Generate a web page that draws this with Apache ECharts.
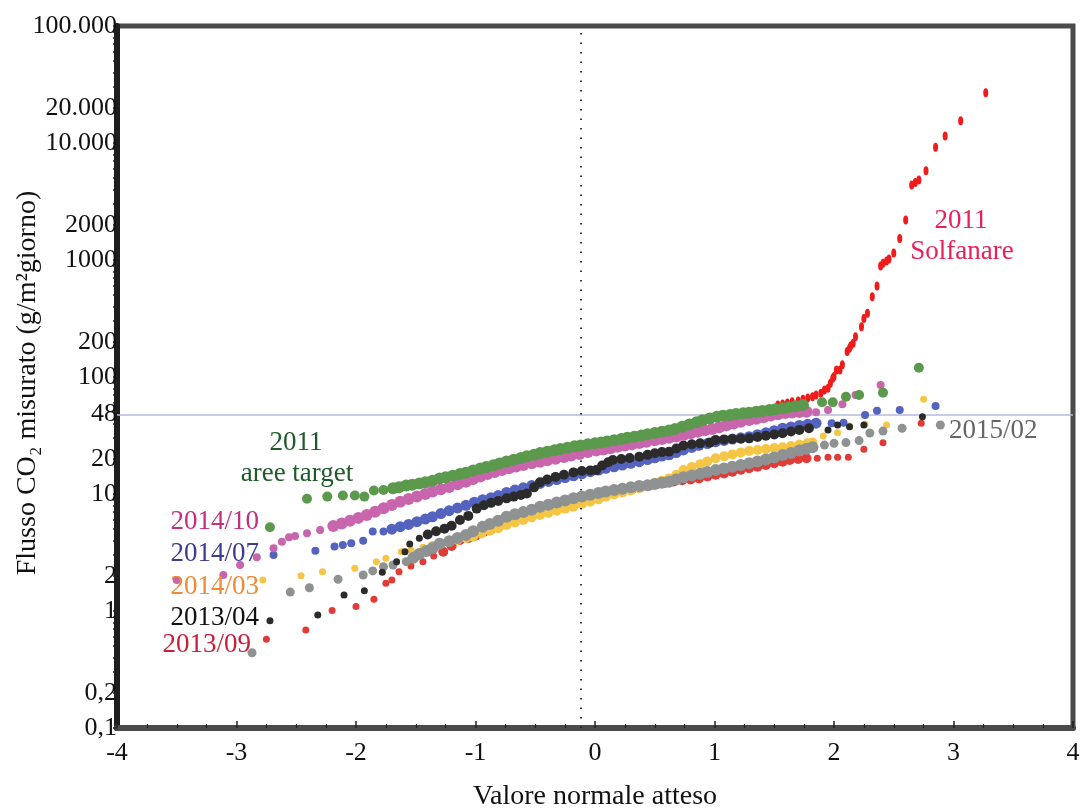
<!DOCTYPE html>
<html><head><meta charset="utf-8">
<script src="https://cdn.jsdelivr.net/npm/echarts@6/dist/echarts.min.js"></script>
<style>html,body{margin:0;padding:0;background:#fff}#c{width:1081px;height:808px}</style>
</head><body><div id="c"></div>
<script>
// ---- data: [valore normale atteso, flusso CO2 misurato] ----
const yTickValues = [0.1, 0.2, 1, 2, 10, 20, 48, 100, 200, 1000, 2000, 10000, 20000, 100000];
const yTickLabels = ['0,1', '0,2', '1', '2', '10', '20', '48', '100', '200', '1000', '2000', '10.000', '20.000', '100.000'];
const xTickValues = [-4, -3, -2, -1, 0, 1, 2, 3, 4];
const refFlux = 48;
const refX = -0.12;

const areeTarget2011 = [
  [-2.72,5.2],[-2.41,9.1],[-2.24,9.5],[-2.11,9.7],[-2.01,9.7],[-1.93,9.5],[-1.85,10.7],[-1.77,10.8],
  [-1.69,11.2],[-1.64,11.4],[-1.58,11.8],[-1.53,12.0],[-1.47,12.3],[-1.42,12.6],[-1.36,13.0],[-1.30,13.6],
  [-1.25,13.9],[-1.19,14.3],[-1.13,14.8],[-1.08,15.2],[-1.02,15.9],[-0.96,16.5],[-0.91,17.0],[-0.85,17.6],
  [-0.80,18.2],[-0.74,19.0],[-0.68,19.6],[-0.62,20.3],[-0.57,21.0],[-0.51,21.7],[-0.46,22.4],[-0.40,23.0],
  [-0.34,23.6],[-0.29,24.2],[-0.23,24.9],[-0.17,25.6],[-0.12,26.0],[-0.06,26.6],[0.00,27.2],[0.05,27.6],
  [0.10,28.1],[0.16,28.8],[0.22,29.5],[0.27,30.2],[0.33,30.8],[0.39,31.6],[0.44,32.4],[0.50,33.2],
  [0.56,34.0],[0.62,34.9],[0.67,36.0],[0.73,37.6],[0.79,39.2],[0.85,41.0],[0.90,42.6],[0.96,44.2],
  [1.02,45.8],[1.07,46.6],[1.13,47.4],[1.18,48.2],[1.24,48.9],[1.29,49.5],[1.35,50.4],[1.40,51.2],
  [1.46,52.2],[1.51,53.1],[1.57,54.0],[1.62,55.0],[1.68,56.2],[1.74,57.6],
  [1.90,60.8],[1.99,60.8],[2.10,67.9],[2.21,70.2],[2.41,73.5],[2.71,120]
];
const s2014_10 = [
  [-3.50,1.84],[-3.11,2.03],[-2.97,2.47],[-2.83,2.88],[-2.69,3.44],[-2.62,3.91],[-2.56,4.26],[-2.51,4.37],
  [-2.41,4.61],[-2.30,4.92],[-2.19,5.33],[-2.12,5.6],[-2.05,5.91],[-1.98,6.25],[-1.91,6.62],[-1.84,7.05],
  [-1.77,7.55],[-1.70,8.05],[-1.63,8.6],[-1.56,9.05],[-1.49,9.5],[-1.42,10.0],[-1.36,10.5],[-1.29,11.0],
  [-1.22,11.5],[-1.15,12.1],[-1.08,12.7],[-1.02,13.4],[-0.96,14.1],[-0.90,14.8],[-0.84,15.4],[-0.78,16.0],
  [-0.72,16.6],[-0.66,17.2],[-0.60,17.7],[-0.53,18.3],[-0.46,18.9],[-0.40,19.4],[-0.33,20.0],[-0.26,20.7],
  [-0.20,21.3],[-0.13,22.0],[-0.06,22.8],[0.01,23.5],[0.07,24.0],[0.13,24.6],[0.19,25.3],[0.25,26.0],
  [0.31,26.6],[0.37,27.3],[0.43,28.0],[0.50,28.8],[0.56,29.5],[0.62,30.3],[0.68,31.0],[0.74,31.9],
  [0.80,33.0],[0.86,34.0],[0.92,35.0],[0.98,36.0],[1.04,37.2],[1.10,38.6],[1.16,40.0],[1.22,41.4],
  [1.29,42.9],[1.35,44.0],[1.41,45.3],[1.47,46.8],[1.53,48.0],[1.59,49.2],[1.65,49.8],[1.71,50.2],
  [1.77,50.5],[1.85,50.0],[1.95,52.2],[2.07,58.5],[2.18,70.2],[2.39,85.5]
];
const s2014_07 = [
  [-2.69,3.01],[-2.34,3.27],[-2.18,3.55],[-2.11,3.67],[-2.04,3.79],[-1.94,3.99],[-1.86,4.77],[-1.77,4.77],
  [-1.70,5.0],[-1.63,5.26],[-1.56,5.5],[-1.49,5.8],[-1.42,6.1],[-1.36,6.39],[-1.29,6.8],[-1.22,7.2],
  [-1.15,7.6],[-1.08,8.0],[-1.01,8.5],[-0.94,8.95],[-0.87,9.3],[-0.81,9.7],[-0.74,10.3],[-0.67,10.8],
  [-0.60,11.3],[-0.53,11.8],[-0.46,12.3],[-0.39,12.8],[-0.32,13.3],[-0.25,13.8],[-0.18,14.3],[-0.11,14.9],
  [-0.04,15.5],[0.03,16.0],[0.09,16.6],[0.16,17.1],[0.23,17.7],[0.30,18.3],[0.37,18.9],[0.44,19.7],
  [0.50,20.4],[0.56,21.1],[0.62,21.6],[0.68,22.6],[0.74,23.8],[0.81,25.0],[0.87,26.1],[0.94,27.0],
  [1.01,28.0],[1.08,28.7],[1.15,29.5],[1.22,30.2],[1.29,30.9],[1.36,32.1],[1.43,33.3],[1.50,34.8],
  [1.57,36.5],[1.64,37.4],[1.71,38.5],[1.78,39.4],[1.85,40.3],
  [1.98,40.3],[2.08,40.7],[2.26,47.3],[2.36,51.5],[2.55,52.2],[2.85,56.5]
];
const s2013_04 = [
  [-2.72,0.826],[-2.32,0.925],[-2.10,1.37],[-1.93,1.49],[-1.78,2.14],[-1.66,2.64],[-1.59,3.21],[-1.55,3.74],
  [-1.47,4.18],[-1.40,4.5],[-1.33,4.8],[-1.26,5.05],[-1.20,5.35],[-1.13,6.0],[-1.06,6.5],[-0.99,7.5],
  [-0.93,8.0],[-0.87,8.4],[-0.81,8.7],[-0.74,9.18],[-0.68,9.5],[-0.62,9.8],[-0.57,10.1],[-0.51,11.4],
  [-0.46,12.6],[-0.40,13.3],[-0.33,14.0],[-0.26,14.6],[-0.18,15.3],[-0.11,15.7],[-0.04,15.9],[0.01,16.0],
  [0.06,17.5],[0.11,18.7],[0.15,19.5],[0.22,19.9],[0.29,20.3],[0.37,20.8],[0.44,21.6],[0.50,22.3],
  [0.56,22.8],[0.62,23.0],[0.68,24.5],[0.74,26.0],[0.81,26.6],[0.88,27.1],[0.96,27.5],[1.01,29.0],
  [1.08,29.3],[1.15,29.5],[1.22,29.7],[1.29,29.9],[1.36,30.7],[1.43,31.5],[1.50,32.2],[1.57,33.0],
  [1.64,34.2],[1.71,35.3],[1.79,36.5],
  [1.95,35.2],[2.03,38.9],[2.13,37.6],[2.25,38.9],[2.74,45.8]
];
const s2014_03 = [
  [-2.78,1.84],[-2.46,2.0],[-2.28,2.17],[-2.01,2.32],[-1.83,2.64],[-1.75,2.82],[-1.62,3.21],[-1.54,3.32],
  [-1.44,3.5],[-1.36,3.6],[-1.29,3.75],[-1.22,3.9],[-1.15,4.05],[-1.08,4.2],[-1.02,4.32],[-0.95,4.6],
  [-0.88,4.85],[-0.81,5.1],[-0.74,5.43],[-0.67,5.7],[-0.60,6.0],[-0.53,6.3],[-0.46,6.62],[-0.39,6.9],
  [-0.32,7.2],[-0.25,7.5],[-0.18,7.78],[-0.11,8.2],[-0.04,8.6],[0.03,9.0],[0.09,9.5],[0.16,9.9],
  [0.23,10.3],[0.30,10.7],[0.37,11.2],[0.44,11.9],[0.50,12.5],[0.56,13.0],[0.62,13.6],[0.68,14.5],
  [0.74,16.0],[0.81,17.0],[0.88,18.0],[0.94,19.0],[1.01,20.2],[1.08,21.0],[1.15,21.8],[1.22,22.6],
  [1.29,23.3],[1.36,23.8],[1.43,24.2],[1.50,24.7],[1.57,25.1],[1.64,25.7],[1.71,26.5],[1.78,27.2],
  [1.82,27.5],[1.91,31.3],[2.03,33.4],[2.13,38.1],[2.26,39.4],[2.44,38.9],[2.75,64.4]
];
const s2015_02 = [
  [-2.87,0.44],[-2.55,1.45],[-2.39,1.58],[-2.15,1.87],[-1.94,2.03],[-1.86,2.2],[-1.77,2.39],[-1.69,2.47],
  [-1.58,2.64],[-1.52,2.85],[-1.47,3.07],[-1.41,3.25],[-1.36,3.44],[-1.30,3.75],[-1.22,3.95],[-1.15,4.2],
  [-1.08,4.47],[-1.02,4.8],[-0.94,5.26],[-0.88,5.55],[-0.81,5.9],[-0.74,6.39],[-0.67,6.7],[-0.60,7.0],
  [-0.53,7.35],[-0.46,7.78],[-0.39,8.1],[-0.32,8.45],[-0.25,8.8],[-0.18,9.18],[-0.11,9.5],[-0.04,9.85],
  [0.03,10.2],[0.09,10.5],[0.16,10.8],[0.23,11.1],[0.30,11.4],[0.37,11.7],[0.44,11.9],[0.50,12.2],
  [0.56,12.5],[0.62,12.7],[0.68,13.3],[0.74,13.9],[0.81,14.4],[0.88,14.9],[0.94,15.4],[1.01,16.0],
  [1.08,16.5],[1.15,17.1],[1.22,17.7],[1.29,18.3],[1.36,19.0],[1.43,19.7],[1.50,20.5],[1.57,21.5],
  [1.64,22.4],[1.71,23.5],[1.77,24.4],[1.82,25.1],
  [1.92,26.2],[2.00,27.1],[2.10,27.5],[2.21,28.6],[2.30,33.2],[2.41,34.5],[2.57,36.5],[2.89,38.9]
];
const s2013_09 = [
  [-2.75,0.573],[-2.42,0.689],[-2.20,1.01],[-2.00,1.09],[-1.85,1.26],[-1.75,1.73],[-1.70,1.84],[-1.64,2.17],
  [-1.54,2.43],[-1.44,2.64],[-1.35,2.95],[-1.27,3.21],[-1.20,3.6],[-1.13,4.05],[-1.06,4.2],[-1.00,4.4],
  [-0.93,4.75],[-0.87,5.0],[-0.80,5.3],[-0.74,5.62],[-0.67,5.9],[-0.60,6.2],[-0.53,6.5],[-0.46,6.84],
  [-0.39,7.1],[-0.32,7.5],[-0.25,7.9],[-0.18,8.3],[-0.11,8.7],[-0.04,9.1],[0.03,9.5],[0.10,9.9],
  [0.17,10.3],[0.24,10.7],[0.31,11.0],[0.38,11.4],[0.45,11.8],[0.52,12.2],[0.59,12.5],[0.66,12.8],
  [0.73,13.1],[0.80,13.3],[0.87,13.6],[0.94,14.1],[1.01,14.6],[1.08,15.0],[1.15,15.5],[1.22,16.1],
  [1.29,16.6],[1.36,17.1],[1.43,17.7],[1.50,18.3],[1.57,18.9],[1.63,19.5],[1.70,19.9],[1.77,20.2],
  [1.86,20.2],[1.95,20.6],[2.03,20.6],[2.12,20.6],[2.25,24.1],[2.41,27.4],[2.73,40.3]
];
const solfanare2011 = [
  [1.10,40.6],[1.21,41.5],[1.53,57.6],[1.57,58.7],[1.61,60],[1.65,61.5],[1.70,62.5],[1.74,64.4],
  [1.78,66],[1.82,67.9],[1.85,70.2],[1.89,72.6],[1.92,77.4],[1.95,80],[1.97,88.3],[1.99,97.5],
  [2.00,101],[2.02,115],[2.05,115],[2.07,127],[2.11,165],[2.13,176],[2.14,185],[2.16,194],
  [2.18,221],[2.23,269],[2.25,317],[2.28,350],[2.32,486],[2.36,600],[2.39,889],[2.41,938],
  [2.44,980],[2.46,1020],[2.50,1150],[2.55,1530],[2.60,2200],[2.65,4380],[2.68,4600],[2.71,4830],
  [2.77,5800],[2.85,9180],[2.93,11500],[3.06,15500],[3.27,26900]
];

// ---- chart ----
const serif = "'Liberation Serif','DejaVu Serif',serif";
const chart = echarts.init(document.getElementById('c'), null, {renderer: 'canvas'});

function minorLogTicks() {
  const out = [];
  for (let e = -1; e <= 5; e++) {
    for (let m = 1; m <= 9; m++) {
      const v = m * Math.pow(10, e);
      if (v <= 100000 + 1e-9) out.push(+v.toPrecision(6));
    }
  }
  return out;
}

// marker size: bigger inside the dense central band, smaller for the sparse tail points
function sc(name, data, color, isoSize, denseSize, dLo, dHi, z) {
  return {
    type: 'scatter', name: name, data: data, symbol: 'circle',
    symbolSize: function (val) { return (val[0] >= dLo && val[0] <= dHi) ? denseSize : isoSize; },
    itemStyle: {color: color, opacity: 1}, z: z, silent: true, animation: false
  };
}

const txt = (t, x, y, color, align) => ({
  type: 'text', x: x, y: y, z: 100,
  style: {text: t, font: "27px 'Liberation Serif'", fill: color, textAlign: align, textVerticalAlign: 'middle'}
});

const option = {
  animation: false,
  backgroundColor: '#ffffff',
  grid: {left: 117, right: 8, top: 26, bottom: 80, outerBoundsMode: 'none', containLabel: false,
         show: true, borderColor: '#4a4a4a', borderWidth: 5, backgroundColor: 'transparent'},
  xAxis: {
    type: 'value', min: -4, max: 4, interval: 1,
    name: 'Valore normale atteso', nameLocation: 'middle', nameGap: 55,
    nameTextStyle: {fontFamily: serif, fontSize: 28, color: '#111'},
    axisLine: {show: true, onZero: false, lineStyle: {color: '#4a4a4a', width: 6}},
    axisTick: {show: true, inside: true, length: 7, lineStyle: {color: '#222', width: 1.5}},
    minorTick: {show: true, splitNumber: 4, length: 4, lineStyle: {color: '#222', width: 1.2}},
    splitLine: {show: false},
    axisLabel: {fontFamily: serif, fontSize: 26, color: '#111', margin: 12}
  },
  yAxis: {
    type: 'log', logBase: 10, min: 0.1, max: 100000,
    axisLine: {show: true, onZero: false, lineStyle: {color: '#1e1e1e', width: 6}},
    axisTick: {show: true, inside: false, length: 4, customValues: minorLogTicks(), lineStyle: {color: '#222', width: 1.5}},
    splitLine: {show: false},
    axisLabel: {
      fontFamily: serif, fontSize: 26, color: '#111', margin: 0, padding: [4, 0, 0, 0],
      customValues: yTickValues,
      formatter: function (v) {
        for (let i = 0; i < yTickValues.length; i++) {
          if (Math.abs(v - yTickValues[i]) <= yTickValues[i] * 1e-6) return yTickLabels[i];
        }
        return '';
      }
    }
  },
  graphic: [
    {type: 'text', x: 28, y: 383, rotation: Math.PI / 2, style: {text: 'Flusso CO\u2082 misurato (g/m\u00B2giorno)', font: "28px 'Liberation Serif'", fill: '#111', textAlign: 'center', textVerticalAlign: 'middle'}},
    txt('2011', 296, 443, '#1f5a2a', 'center'),
    txt('aree target', 297, 474, '#1f5a2a', 'center'),
    txt('2014/10', 259, 522, '#c2307e', 'right'),
    txt('2014/07', 259, 554, '#3c3c90', 'right'),
    txt('2014/03', 259, 587, '#ef8a35', 'right'),
    txt('2013/04', 259, 618, '#111111', 'right'),
    txt('2013/09', 251, 645, '#c81e3a', 'right'),
    txt('2011', 961, 221, '#e8205a', 'center'),
    txt('Solfanare', 962, 252, '#e8205a', 'center'),
    txt('2015/02', 949, 431, '#666666', 'left')
  ],
  series: [
    Object.assign(sc('2011 Solfanare', solfanare2011, '#f01c1c', [5, 9], [5, 9], 0, 0, 2), {
      markLine: {
        silent: true, symbol: 'none', animation: false, label: {show: false},
        data: [
          {yAxis: refFlux, lineStyle: {color: '#b4bade', width: 1.5, type: 'solid'}},
          {xAxis: refX, lineStyle: {color: '#222', width: 1.8, type: [1.5, 8]}}
        ]
      }
    }),
    sc('2013/09', s2013_09, '#e23a36', 7, 10, -1.3, 1.8, 3),
    sc('2014/03', s2014_03, '#f5c645', 7, 10, -1.4, 1.85, 4),
    sc('2015/02', s2015_02, '#8f9292', 9, 12, -1.55, 1.85, 5),
    sc('2014/07', s2014_07, '#5563c0', 8, 11, -1.75, 1.9, 6),
    sc('2013/04', s2013_04, '#2b2b2b', 7, 10, -1.45, 1.85, 7),
    sc('2014/10', s2014_10, '#c865ac', 8, 12, -2.25, 1.8, 8),
    sc('2011 aree target', areeTarget2011, '#5b9a4c', 10, 12, -1.72, 1.8, 9)
  ]
};
chart.setOption(option);
</script>
</body></html>
